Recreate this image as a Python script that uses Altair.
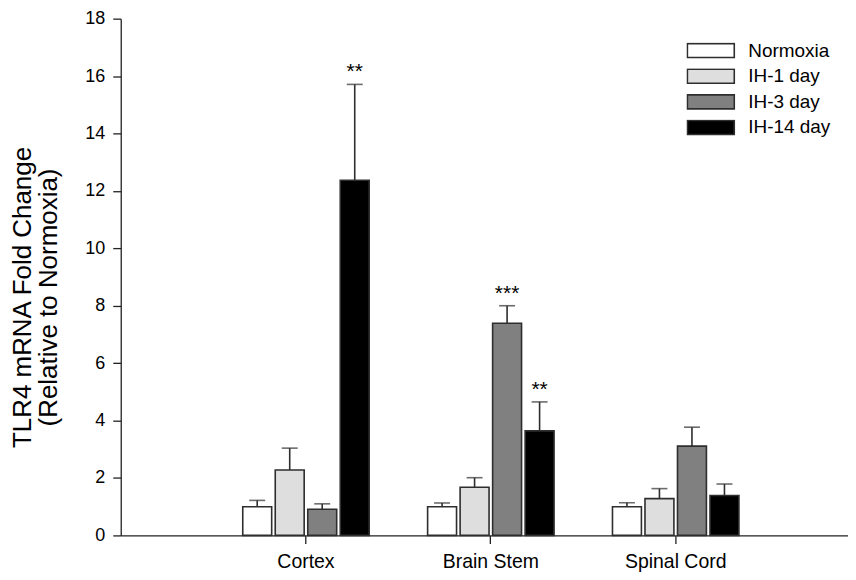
import altair as alt
import pandas as pd

regions = ["Cortex", "Brain Stem", "Spinal Cord"]
groups = ["Normoxia", "IH-1 day", "IH-3 day", "IH-14 day"]
colors = ["#ffffff", "#dedede", "#808080", "#000000"]

mean_cortex = [1.00, 2.28, 0.91, 12.37]
mean_brainstem = [1.00, 1.68, 7.39, 3.64]
mean_spinal = [1.00, 1.28, 3.11, 1.39]

sem_cortex = [0.22, 0.76, 0.19, 3.34]
sem_brainstem = [0.13, 0.33, 0.61, 1.01]
sem_spinal = [0.14, 0.35, 0.66, 0.40]

stars_cortex = ["", "", "", "**"]
stars_brainstem = ["", "", "***", "**"]
stars_spinal = ["", "", "", ""]

rows = []
for reg, ms, ss, st in zip(
    regions,
    [mean_cortex, mean_brainstem, mean_spinal],
    [sem_cortex, sem_brainstem, sem_spinal],
    [stars_cortex, stars_brainstem, stars_spinal],
):
    for g, m, s, t in zip(groups, ms, ss, st):
        rows.append({"region": reg, "group": g, "mean": m, "sem": s, "star": t})
df = pd.DataFrame(rows)

FONT = "Liberation Sans"
YTITLE = ["TLR4 mRNA Fold Change", "(Relative to Normoxia)"]
yscale = alt.Scale(domain=[0, 18], nice=False)

base = alt.Chart(df).transform_calculate(
    upper="datum.mean + datum.sem"
).encode(
    x=alt.X(
        "region:N",
        sort=regions,
        title=None,
        scale=alt.Scale(paddingInner=0.316, paddingOuter=0.625, align=0.528),
        axis=alt.Axis(labelAngle=0, labelFontSize=19.5, labelPadding=9, tickSize=8),
    ),
    xOffset=alt.XOffset(
        "group:N", sort=groups, scale=alt.Scale(paddingInner=0.11, paddingOuter=0)
    ),
)

bars = base.mark_bar(stroke="#2e2e2e", strokeWidth=1.6).encode(
    y=alt.Y(
        "mean:Q",
        scale=yscale,
        title=YTITLE,
        axis=alt.Axis(
            values=list(range(0, 19, 2)),
            labelFontSize=18,
            labelPadding=8,
            tickSize=8,
            titleFontSize=26,
            titleLineHeight=26,
            titleX=-85,
            titleY=279,
            titleFontWeight="normal",
        ),
    ),
    color=alt.Color(
        "group:N",
        sort=groups,
        scale=alt.Scale(domain=groups, range=colors),
        legend=alt.Legend(
            title=None,
            orient="none",
            direction="vertical",
            legendX=567,
            legendY=24,
            padding=0,
            symbolType="M-1,-0.298H1V0.298H-1Z",
            symbolSize=2209,
            clipHeight=16,
            rowPadding=6.7,
            labelFontSize=19,
            labelFont=FONT,
            labelOffset=13,
            labelColor="black",
            symbolStrokeColor="#2e2e2e",
            symbolStrokeWidth=1.6,
            symbolOpacity=1,
        ),
    ),
)

rules = base.mark_rule(color="#2e2e2e", strokeWidth=1.6).encode(
    y=alt.Y("mean:Q", scale=yscale, title=YTITLE), y2="upper:Q"
)

caps = base.mark_tick(color="#2e2e2e", thickness=1.6, size=16).encode(
    y=alt.Y("upper:Q", scale=yscale, title=YTITLE)
)

stars = base.mark_text(
    font=FONT, fontSize=21, baseline="alphabetic", dy=-6, color="black"
).encode(y=alt.Y("upper:Q", scale=yscale, title=YTITLE), text="star:N")

chart = (
    alt.layer(bars, rules, caps, stars)
    .properties(
        width=729,
        height=518,
        autosize=alt.AutoSizeParams(type="none"),
        padding={"left": 113, "top": 10, "right": 0, "bottom": 36},
    )
    .configure_view(strokeWidth=0)
    .configure_axis(
        grid=False,
        domainColor="#222222",
        domainWidth=1.3,
        tickColor="#222222",
        tickWidth=1.3,
        labelFont=FONT,
        titleFont=FONT,
        labelColor="black",
        titleColor="black",
    )
)

chart.save("out.html", embed_options={"renderer": "svg", "actions": False})
